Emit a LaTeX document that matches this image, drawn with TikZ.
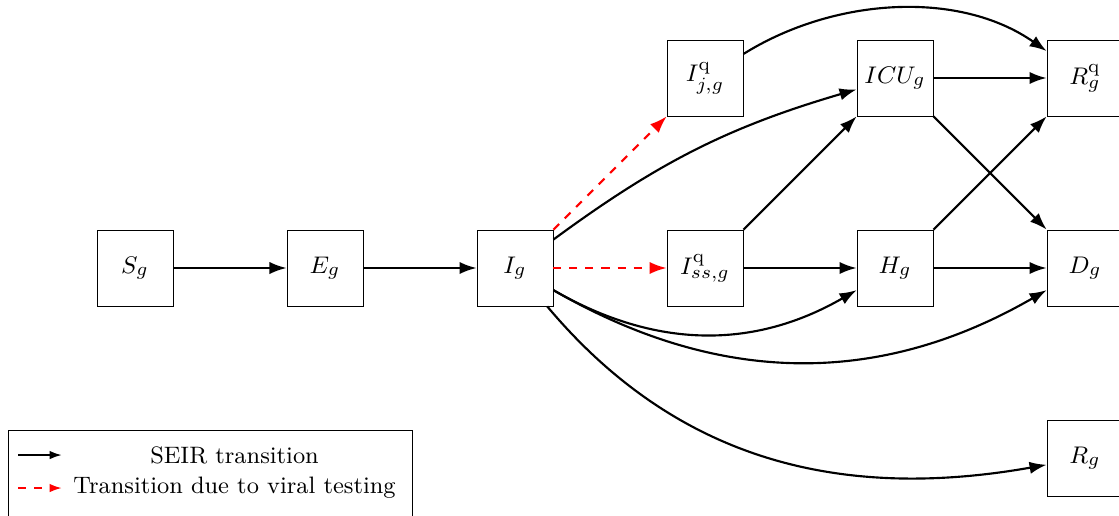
\documentclass[tikz,border=0pt]{standalone}
\usetikzlibrary{arrows.meta}
\begin{document}
\begin{tikzpicture}[
  font=\fontsize{9.3pt}{11pt}\selectfont,
  box/.style={draw, line width=0.3pt, minimum size=1cm, inner sep=0pt},
  legtext/.style={font=\fontsize{8.9pt}{11pt}\selectfont},
  seir/.style={thick, -{Latex[length=6.4pt,width=4.6pt]}},
  viral/.style={thick, red, dashed, -{Latex[length=6.4pt,width=4.6pt]}},
  legseir/.style={thick, -{Latex[length=4.6pt,width=3.2pt]}},
  legviral/.style={thick, red, dashed, -{Latex[length=4.6pt,width=3.2pt]}}
]
\useasboundingbox (-1.776,-3.25) rectangle (12.947,3.526);
% nodes
\node[box] (S) at (0,0) {$S_g$};
\node[box] (E) at (2.5,0) {$E_g$};
\node[box] (I) at (5,0) {$I_g$};
\node[box] (Iss) at (7.5,0) {$I^{\mathrm{q}}_{ss,g}$};
\node[box] (H) at (10,0) {$H_g$};
\node[box] (D) at (12.5,0) {$D_g$};
\node[box] (Ij) at (7.5,2.5) {$I^{\mathrm{q}}_{j,g}$};
\node[box] (ICU) at (10,2.5) {$ICU_g$};
\node[box] (Rq) at (12.5,2.5) {$R^{\mathrm{q}}_g$};
\node[box] (R) at (12.5,-2.5) {$R_g$};
% edges
\draw[seir] (S) -- (E);
\draw[seir] (E) -- (I);
\draw[viral] (I) -- (Iss);
\draw[viral] (I.north east) -- (Ij.south west);
\draw[seir] (Iss) -- (H);
\draw[seir] (H) -- (D);
\draw[seir] (ICU) -- (Rq);
\draw[seir] (Iss.north east) -- (ICU.south west);
\draw[seir] (H.north east) -- (Rq.south west);
\draw[seir] (ICU.south east) -- (D.north west);
\draw[seir] (Ij) to[out=32,in=145,looseness=0.9] (Rq);
\draw[seir] (I) to[bend left=10] (ICU);
\draw[seir] (I) to[bend right=30] (H);
\draw[seir] (I) to[bend right=30] (D);
\draw[seir] (I) to[out=-50,in=190] (R);
% legend
\draw[line width=0.3pt] (-1.671,-3.4) -- (-1.671,-2.132) -- (3.645,-2.132) -- (3.645,-3.4);
\coordinate (a1) at (-1.539,-2.461);
\coordinate (b1) at (-0.961,-2.461);
\coordinate (a2) at (-1.539,-2.895);
\coordinate (b2) at (-0.961,-2.895);
\draw[legseir] (a1) -- (b1);
\draw[legviral] (a2) -- (b2);
\node[legtext] (t1) at (1.31,-2.461) {SEIR transition};
\node[legtext] (t2) at (1.31,-2.895) {Transition due to viral testing};
\end{tikzpicture}
\end{document}
